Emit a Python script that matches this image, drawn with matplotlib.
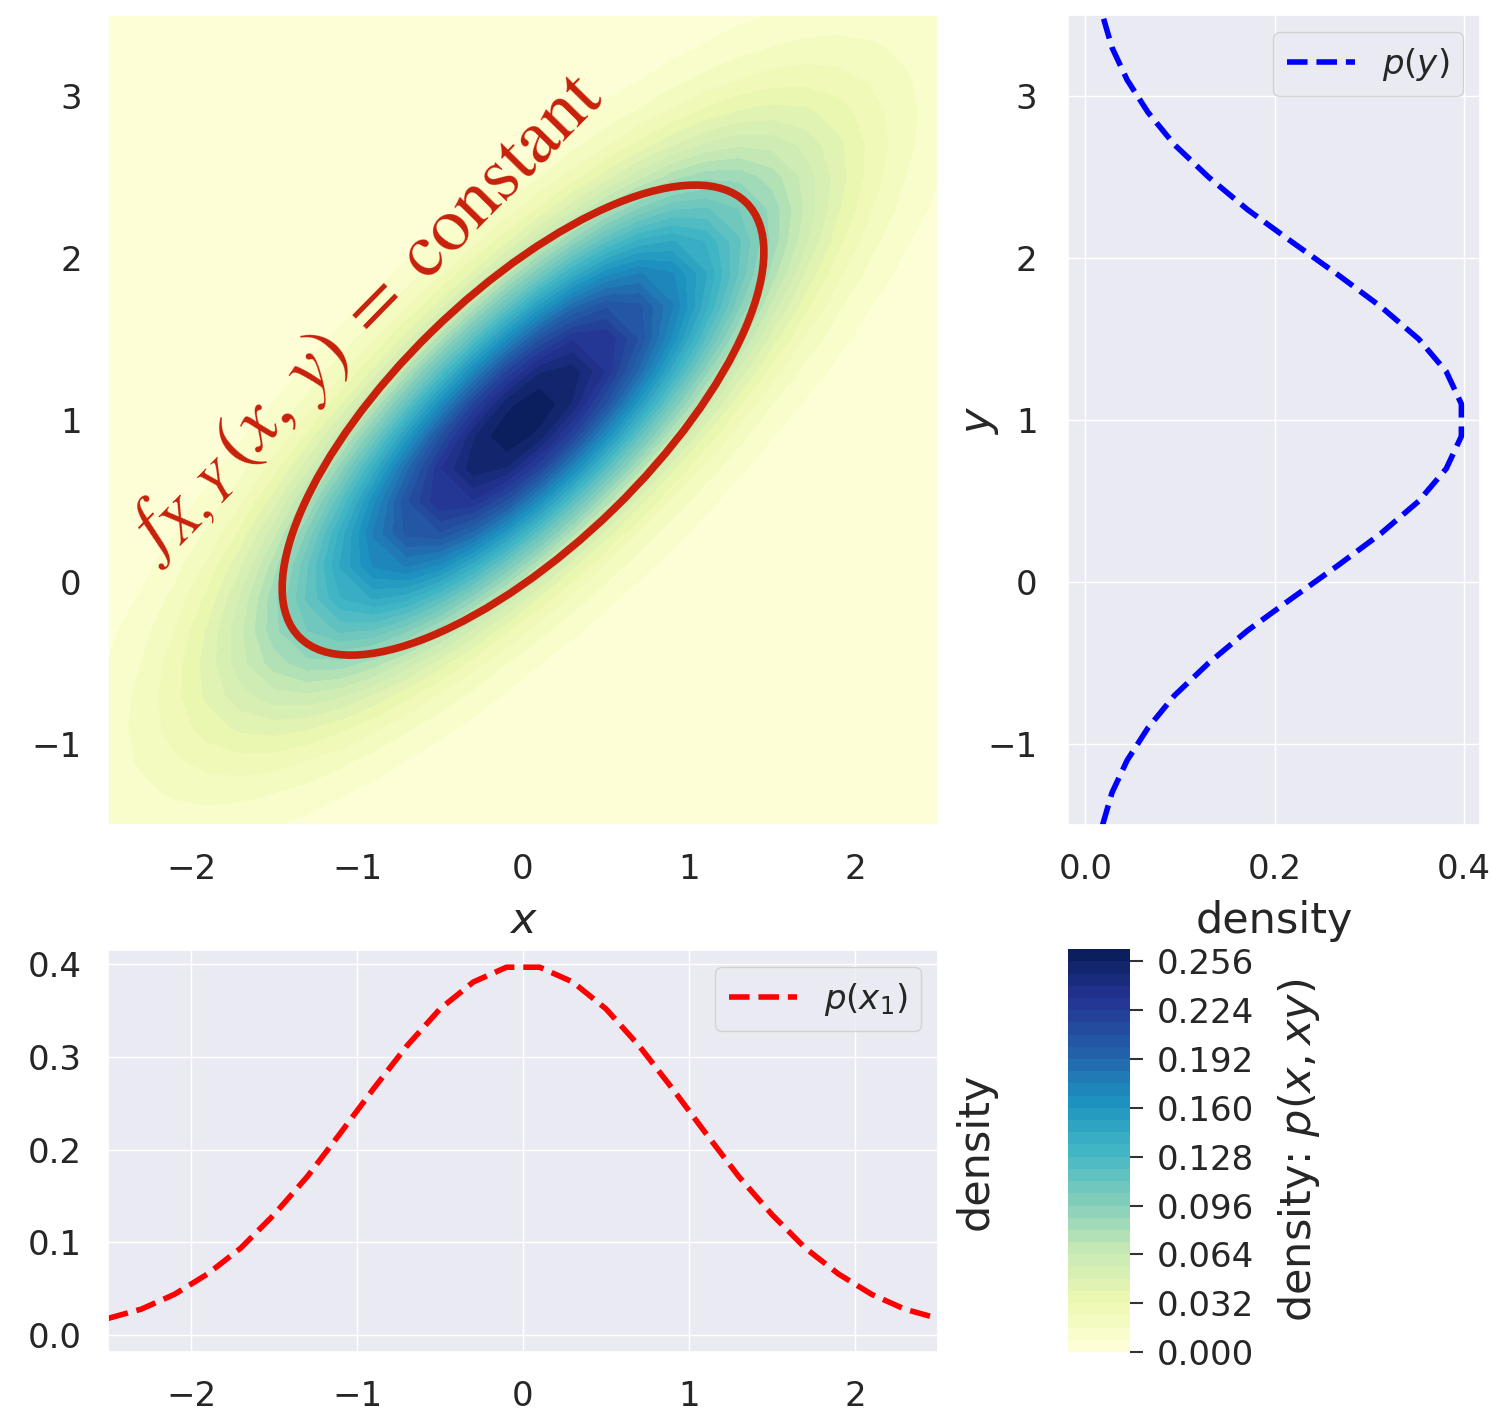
import numpy as np
import matplotlib.pyplot as plt
import seaborn as sns
from matplotlib.patches import Ellipse

# grid the joint density was sampled on (26 x 26)
x_pts = np.linspace(-2.5, 2.5, 26)
y_pts = np.linspace(-1.5, 3.5, 26)

# marginal densities
px_vals = [0.018, 0.028, 0.044, 0.066, 0.094, 0.130, 0.171, 0.218, 0.266,
           0.312, 0.352, 0.381, 0.397, 0.397, 0.381, 0.352, 0.312, 0.266,
           0.218, 0.171, 0.130, 0.094, 0.066, 0.044, 0.028, 0.018]
py_vals = [0.018, 0.028, 0.044, 0.066, 0.094, 0.130, 0.171, 0.218, 0.266,
           0.312, 0.352, 0.381, 0.397, 0.397, 0.381, 0.352, 0.312, 0.266,
           0.218, 0.171, 0.130, 0.094, 0.066, 0.044, 0.028, 0.018]

# joint density: bivariate normal
mu_x, mu_y = 0.0, 1.0
sd_x, sd_y = 1.0, 1.0
rho = 0.8

levels = np.arange(0, 0.2641, 0.008)
cbar_ticks = levels[::4]

# "constant density" ellipse
ell_center = (0.0, 1.0)
ell_width, ell_height, ell_angle = 3.8, 1.55, 45

X, Y = np.meshgrid(x_pts, y_pts)
zx = (X - mu_x) / sd_x
zy = (Y - mu_y) / sd_y
Z = np.exp(-(zx**2 - 2 * rho * zx * zy + zy**2) / (2 * (1 - rho**2)))
Z = Z / (2 * np.pi * sd_x * sd_y * np.sqrt(1 - rho**2))

sns.set_theme(style='darkgrid')
plt.rcParams['xtick.labelsize'] = 24.5
plt.rcParams['ytick.labelsize'] = 24.5
plt.rcParams['axes.labelsize'] = 31
plt.rcParams['legend.fontsize'] = 24.5

red = '#c8200a'

fig = plt.figure(figsize=(14.92, 14.14), dpi=100)
ax = fig.add_axes([0.0724, 0.4165, 0.5563, 0.5728])
ax_r = fig.add_axes([0.7158, 0.4165, 0.2761, 0.5728])
ax_b = fig.add_axes([0.0724, 0.0438, 0.5563, 0.2843])
cax = fig.add_axes([0.7158, 0.0438, 0.0416, 0.2850])

# joint density
cs = ax.contourf(X, Y, Z, levels=levels, cmap='YlGnBu')
ax.add_patch(Ellipse(ell_center, ell_width, ell_height, angle=ell_angle,
                     fill=False, edgecolor=red, lw=5.5, zorder=3))
ax.text(-0.94, 1.63, r'$f_{X,Y}\,(x,\,y)\;=\;\mathrm{constant}$', color=red,
        fontsize=55, rotation=45.5, ha='center', va='center',
        rotation_mode='anchor', math_fontfamily='stix')
ax.set_xlim(-2.5, 2.5)
ax.set_ylim(-1.5, 3.5)
ax.set_xticks([-2, -1, 0, 1, 2])
ax.set_yticks([-1, 0, 1, 2, 3])
ax.set_xlabel('$x$', labelpad=10)
ax.tick_params(axis='x', pad=14)
ax.tick_params(axis='y', pad=13)

# marginal of y
ax_r.plot(py_vals, y_pts, '--', color='blue', lw=4, label='$p(y)$')
ax_r.set_ylim(-1.5, 3.5)
ax_r.set_xlim(-0.0185, 0.4166)
ax_r.set_xticks([0.0, 0.2, 0.4])
ax_r.set_yticks([-1, 0, 1, 2, 3])
ax_r.set_xlabel('density', labelpad=10)
ax_r.set_ylabel('$y$', labelpad=-10)
ax_r.tick_params(axis='x', pad=14)
ax_r.tick_params(axis='y', pad=16)
ax_r.legend(loc='upper right')

# marginal of x
ax_b.plot(x_pts, px_vals, '--', color='red', lw=4, label='$p(x_1)$')
ax_b.set_xlim(-2.5, 2.5)
ax_b.set_ylim(-0.0183, 0.4155)
ax_b.set_xticks([-2, -1, 0, 1, 2])
ax_b.set_yticks([0.0, 0.1, 0.2, 0.3, 0.4])
ax_b.yaxis.set_label_position('right')
ax_b.set_ylabel('density', labelpad=12)
ax_b.tick_params(axis='x', pad=14)
ax_b.tick_params(axis='y', pad=13)
ax_b.legend(loc='upper right')

cb = fig.colorbar(cs, cax=cax, ticks=cbar_ticks, format='%.3f')
cb.set_label('density: $p(x, xy)$', fontsize=31, labelpad=16)
cb.ax.tick_params(labelsize=24.5, length=9, width=1.5, pad=10,
                  color='#333333')
cb.outline.set_visible(False)

fig.savefig('out.png', dpi=100)
